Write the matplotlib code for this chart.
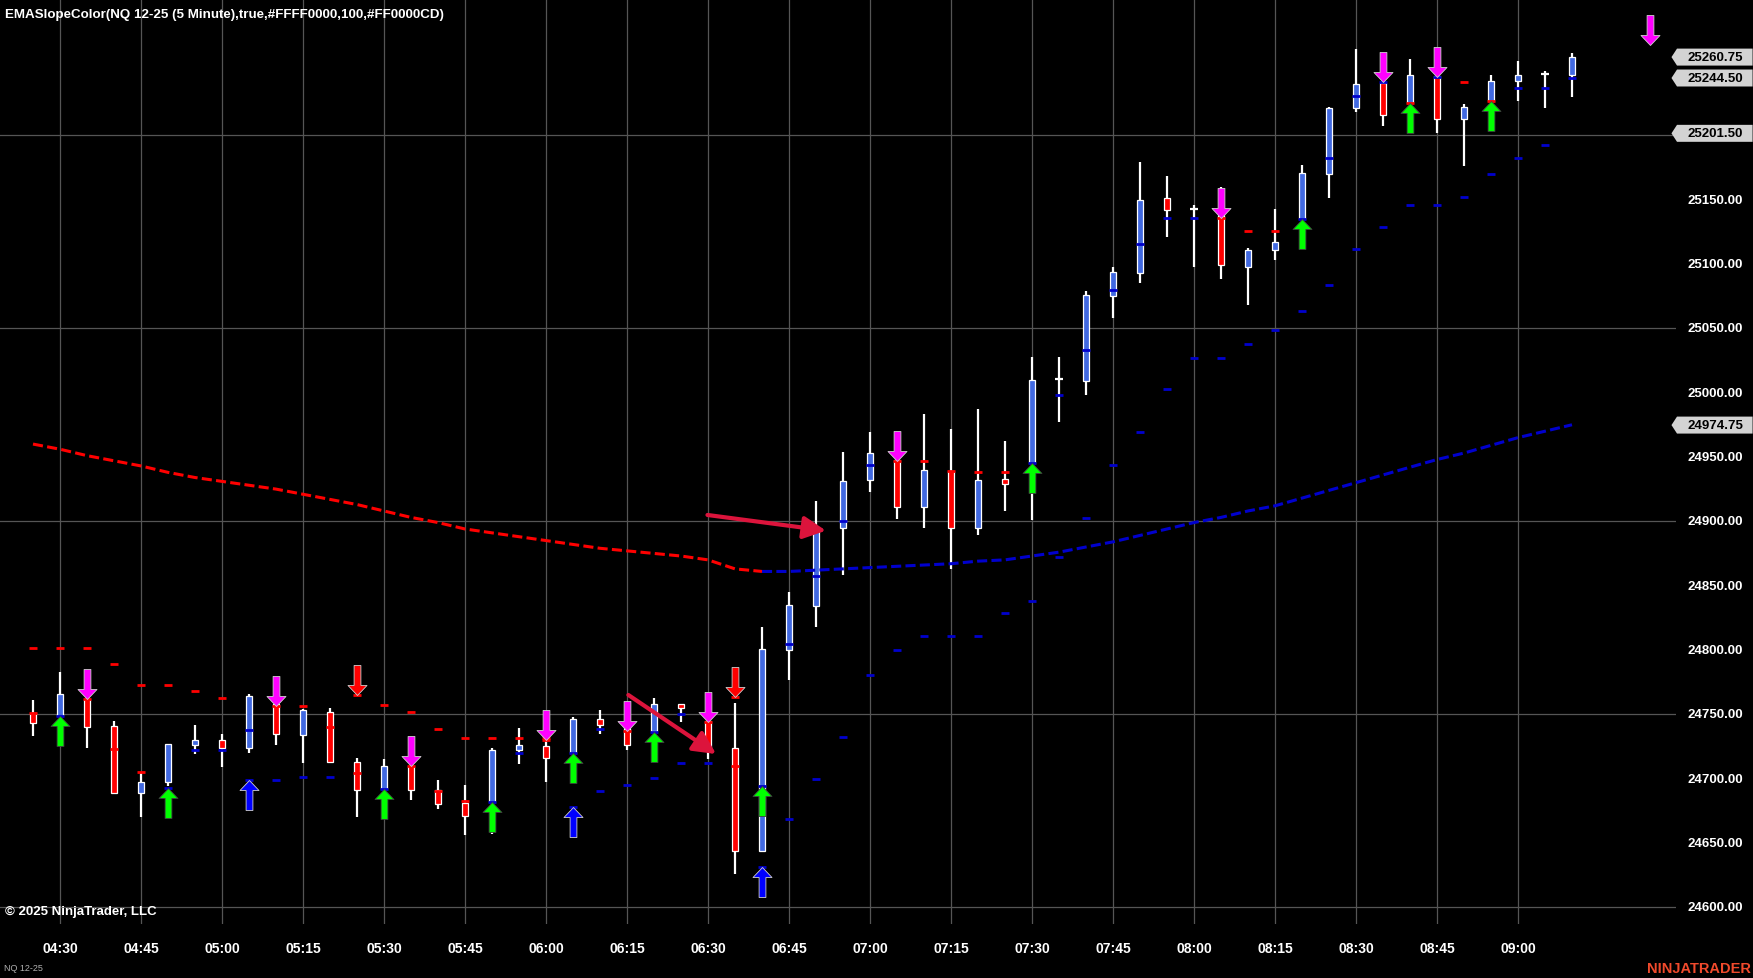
import matplotlib
matplotlib.use('Agg')
import matplotlib.pyplot as plt
import matplotlib.transforms as mtransforms
from matplotlib.path import Path
from matplotlib.patches import Polygon
import numpy as np

plt.rcParams['font.family'] = ['Liberation Sans', 'DejaVu Sans']

# bar index 0 = 04:30, one bar per 5 minutes (04:25 .. 09:10)
bar_idx = list(range(-1, 57))
opens = [24751, 24749, 24762, 24741, 24689, 24697, 24726, 24730, 24724, 24758,
         24734, 24752, 24713, 24692, 24710, 24691, 24681, 24682, 24722, 24725,
         24720, 24746, 24739, 24737, 24758, 24745, 24724, 24644, 24800, 24834,
         24895, 24932, 24948, 24911, 24939, 24895, 24933, 24945, 25010.5, 25009,
         25075, 25093, 25151, 25142.5, 25138, 25098, 25111, 25135, 25170, 25221,
         25241, 25225, 25246, 25213, 25227, 25242, 25247.5, 25247]
highs = [24761, 24783, 24764, 24745, 24704, 24727, 24742, 24735, 24766, 24760,
         24754, 24755, 24716, 24715, 24712, 24699, 24695, 24724, 24739, 24731,
         24748, 24753, 24742, 24763, 24758, 24746, 24759, 24818, 24845, 24916,
         24954, 24969, 24952, 24983, 24972, 24987, 24962, 25028, 25028, 25079,
         25098, 25179, 25168, 25146, 25160, 25112, 25143, 25177, 25222, 25267,
         25245, 25259, 25265, 25224, 25247, 25258, 25250, 25264]
lows = [24733, 24747, 24724, 24688, 24670, 24694, 24719, 24709, 24720, 24726,
        24712, 24712, 24670, 24690, 24683, 24676, 24656, 24657, 24711, 24697,
        24718, 24735, 24722, 24735, 24744, 24715, 24626, 24643, 24777, 24818,
        24858, 24923, 24902, 24895, 24863, 24889, 24908, 24901, 24977, 24998,
        25058, 25085, 25121, 25098, 25088, 25068, 25103, 25133, 25151, 25218,
        25207, 25224, 25202, 25176, 25225, 25227, 25221, 25230]
closes = [24743, 24766, 24740, 24689, 24697, 24727, 24730, 24724, 24764, 24735,
          24753, 24713, 24691, 24710, 24691, 24680, 24671, 24722, 24726, 24716,
          24746, 24742, 24726, 24758, 24755, 24723, 24644, 24801, 24835, 24893,
          24931, 24953, 24911, 24940, 24895, 24932, 24929, 25010, 25010.5, 25076,
          25094, 25150, 25142, 25142.5, 25099, 25111, 25117, 25171, 25221, 25240,
          25216, 25247, 25213, 25222, 25242, 25247, 25247.5, 25260.75]

# EMA(100), red while sloping down, blue once it turns up
ema = [24960, 24956, 24951, 24947, 24943, 24938, 24934, 24931, 24928, 24925,
       24921, 24917, 24913, 24908, 24903, 24899, 24894, 24891, 24888, 24885,
       24882, 24879, 24877, 24875, 24873, 24870, 24863, 24861, 24861, 24862,
       24863, 24864, 24865, 24866, 24867, 24869, 24870, 24873, 24876, 24880,
       24884, 24889, 24894, 24899, 24903, 24908, 24912, 24918, 24924, 24930,
       24936, 24942, 24948, 24953, 24959, 24965, 24970, 24975]
ema_turn = 28  # position in the lists where the slope turns (06:45)

# trailing stop dashes
stop_vals = [24801.5, 24801.5, 24801.5, 24789.1, 24772.8, 24772.8, 24768.1, 24762.6, 24698.9, 24698.9,
             24701.2, 24701.2, 24765.0, 24757.2, 24751.8, 24738.6, 24731.8, 24731.8, 24731.8, 24731.8,
             24677.7, 24690.4, 24695.0, 24700.5, 24712.1, 24712.1, 24763.4, 24631.0, 24668.6, 24699.7,
             24732.6, 24780.5, 24800.2, 24811.1, 24811.1, 24811.1, 24828.7, 24838.1, 24872.2, 24902.8,
             24943.7, 24969.6, 25002.8, 25027.2, 25027.2, 25038.0, 25048.9, 25063.5, 25083.7, 25111.6,
             25128.7, 25145.8, 25145.8, 25152.0, 25170.2, 25182.6, 25192.4, 25201.5]
stop_cols = list('rrrrrrrrbbbbrrrrrrrrbbbbbbrbbbbbbbbbbbbbbbbbbbbbbbbbbbbbb')[:58]
# second set of marks
mark_vals = [24750.7, 24748.9, 24761.9, 24723.0, 24705.4, 24692.7, 24722.5, 24722.5, 24737.8, 24756.7,
             24756.7, 24739.8, 24704.4, 24691.9, 24710.1, 24690.1, 24682.6, 24681.6, 24719.9, 24730.3,
             24719.9, 24738.6, 24737.3, 24736.5, 24750.5, 24744.3, 24710.1, 24694.5, 24804.8, 24857.7,
             24900.2, 24943.7, 24947.1, 24947.1, 24939.1, 24938.6, 24938.6, 24945.3, 24998.3, 25033.4,
             25080.0, 25115.8, 25136.0, 25136.0, 25136.0, 25125.9, 25125.9, 25134.9, 25182.5, 25230.8,
             25241.1, 25225.1, 25245.0, 25241.7, 25226.9, 25237.0, 25237.0, 25244.5]
mark_cols = list('rbrrrbbbbrrrrbrrrbbrbbrbbrrbbbbbrrrrrbbbbbbbrrrbbbbrbrrbbbb')[:58]

# signal arrows (bar index)
green_up = [0, 4, 12, 16, 19, 22, 26, 36, 46, 50, 53]
magenta_down = [1, 8, 13, 18, 21, 24, 31, 43, 49, 51]
red_down = [11, 25]
blue_up = [7, 19, 26]

time_labels = ['04:30', '04:45', '05:00', '05:15', '05:30', '05:45', '06:00', '06:15', '06:30', '06:45',
               '07:00', '07:15', '07:30', '07:45', '08:00', '08:15', '08:30', '08:45', '09:00']
price_labels = [24600, 24650, 24700, 24750, 24800, 24850, 24900, 24950, 25000, 25050, 25100, 25150]
grid_prices = [24600, 24750, 24900, 25050, 25200]
tag_prices = [25260.75, 25244.50, 25201.50, 24974.75]

# hand drawn arrows (start, end) in bar index / price
drawn_arrows = [((21.05, 24765.0), (24.3, 24719.1)),
                ((23.98, 24904.9), (28.37, 24892.7))]

W, H = 1753, 979
fig = plt.figure(figsize=(W / 100, H / 100), dpi=100, facecolor='black')
ax = fig.add_axes([0, 54 / H, 1676 / W, 925 / H])
ax.set_facecolor('black')
ax.set_xlim(-60 / 27, (1676 - 60) / 27)
ax.set_ylim(24587.0, 25305.9)
for s in ax.spines.values():
    s.set_visible(False)
ax.set_xticks([])
ax.set_yticks([])

# grid
for i in range(len(time_labels)):
    ax.axvline(i * 3, color='#555555', lw=0.9, zorder=0)
for p in grid_prices:
    ax.axhline(p, color='#555555', lw=0.9, zorder=0)

x = np.array(bar_idx)
o = np.array(opens)
c = np.array(closes)

# candles
ax.vlines(x, lows, highs, color='white', lw=1.6, zorder=2)
up = c > o
down = c < o
doji = c == o
ax.bar(x[up], c[up] - o[up], bottom=o[up], width=0.25, color='#4169e1',
       edgecolor='white', linewidth=0.9, zorder=3)
ax.bar(x[down], o[down] - c[down], bottom=c[down], width=0.25, color='#ff0000',
       edgecolor='white', linewidth=0.9, zorder=3)
ax.hlines(o[doji], x[doji] - 0.14, x[doji] + 0.14, color='white', lw=1.6, zorder=3)

# EMA
ax.plot(x[:ema_turn], ema[:ema_turn], color='#ff0000', lw=2.2, dashes=(3.3, 1.4), zorder=4)
ax.plot(x[ema_turn - 1:], ema[ema_turn - 1:], color='#0000cd', lw=2.2, dashes=(3.3, 1.4), zorder=4)

# dash marks
cmap = {'r': '#ff0000', 'b': '#0000cd'}
for xi, v, col in zip(bar_idx, stop_vals, stop_cols):
    ax.plot(xi, v, marker='_', ms=5.5, mew=2, color=cmap[col], zorder=5)
for xi, v, col in zip(bar_idx, mark_vals, mark_cols):
    ax.plot(xi, v, marker='_', ms=5.5, mew=2, color=cmap[col], zorder=5)


def arrow_marker(pointing_up):
    hw, hl, sw, ln = 9.5, 10, 3.4, 30
    s = 1 if pointing_up else -1
    verts = [(0, 0), (-hw, -s * hl), (-sw, -s * hl), (-sw, -s * ln), (sw, -s * ln),
             (sw, -s * hl), (hw, -s * hl), (0, 0)]
    codes = [Path.MOVETO] + [Path.LINETO] * 6 + [Path.CLOSEPOLY]
    return Path(verts, codes)


UP = arrow_marker(True)
DOWN = arrow_marker(False)
MS = 43.2

stop_map = dict(zip(bar_idx, stop_vals))
mark_map = dict(zip(bar_idx, mark_vals))
for i in green_up:
    ax.plot(i, mark_map[i], marker=UP, ms=MS, color='#00ff00', mec='#404040', mew=0.6, zorder=6)
for i in magenta_down:
    ax.plot(i, mark_map[i], marker=DOWN, ms=MS, color='#ff00ff', mec='#d0d0d0', mew=0.6, zorder=6)
for i in red_down:
    ax.plot(i, stop_map[i], marker=DOWN, ms=MS, color='#ff0000', mec='#d0d0d0', mew=0.6, zorder=6)
for i in blue_up:
    ax.plot(i, stop_map[i], marker=UP, ms=MS, color='#0000ff', mec='#d0d0d0', mew=0.6, zorder=6)
ax.plot(58.9, 25270, marker=DOWN, ms=MS, color='#ff00ff', mec='#d0d0d0', mew=0.6, zorder=6,
        clip_on=False)

# drawn arrows
for start, end in drawn_arrows:
    ax.annotate('', xy=end, xytext=start,
                arrowprops=dict(arrowstyle='-|>', color='#dc143c', lw=3, mutation_scale=34,
                                shrinkA=0, shrinkB=0), zorder=7)

# axis labels
yt = mtransforms.blended_transform_factory(ax.transAxes, ax.transData)
xt = mtransforms.blended_transform_factory(ax.transData, ax.transAxes)
for i, lab in enumerate(time_labels):
    ax.text(i * 3, -0.026, lab, transform=xt, ha='center', va='center', color='white',
            fontsize=10, fontweight='bold', clip_on=False)
for p in price_labels:
    ax.text(1.040, p, f'{p:.2f}', transform=yt, ha='right', va='center', color='white',
            fontsize=9.5, fontweight='bold', clip_on=False)
for p in tag_prices:
    h = 6.6
    poly = Polygon([(0.9973, p), (1.0006, p + h), (1.0457, p + h), (1.0457, p - h), (1.0006, p - h)],
                   closed=True, transform=yt, facecolor='#d3d3d3', edgecolor='none', clip_on=False,
                   zorder=8)
    ax.add_patch(poly)
    ax.text(1.040, p, f'{p:.2f}', transform=yt, ha='right', va='center', color='black',
            fontsize=9.5, fontweight='bold', clip_on=False, zorder=9)

fig.text(5 / W, 1 - 15 / H, 'EMASlopeColor(NQ 12-25 (5 Minute),true,#FFFF0000,100,#FF0000CD)',
         ha='left', va='center', color='white', fontsize=9.6, fontweight='bold')
fig.text(5 / W, 1 - 912 / H, '\u00a9 2025 NinjaTrader, LLC', ha='left', va='center', color='white',
         fontsize=9.5, fontweight='bold')
fig.text(4 / W, 1 - 969 / H, 'NQ 12-25', ha='left', va='center', color='#b0b0b0', fontsize=6.5)
fig.text(1751 / W, 1 - 969 / H, 'NINJATRADER', ha='right', va='center', color='#f04a2c',
         fontsize=10.5, fontweight='bold')

fig.savefig('out.png', dpi=100, facecolor='black')
